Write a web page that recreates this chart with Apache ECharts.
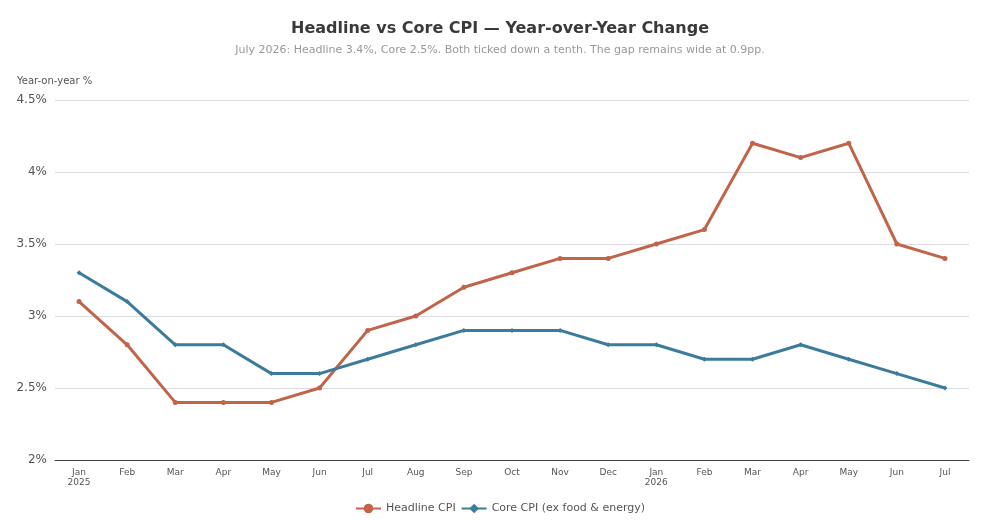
<!doctype html>
<html lang="en">
<head>
<meta charset="utf-8">
<script src="https://cdn.jsdelivr.net/npm/echarts@6/dist/echarts.min.js"></script>
<style>
  html, body { margin: 0; padding: 0; background: #fff; }
  #chart { width: 1000px; height: 520px; }
</style>
</head>
<body>
<div id="chart"></div>
<script>
  // month labels, Jan 2025 .. Jul 2026
  var months = ['Jan\n2025', 'Feb', 'Mar', 'Apr', 'May', 'Jun', 'Jul', 'Aug', 'Sep', 'Oct', 'Nov', 'Dec',
    'Jan\n2026', 'Feb', 'Mar', 'Apr', 'May', 'Jun', 'Jul'];
  var headline = [3.1, 2.8, 2.4, 2.4, 2.4, 2.5, 2.9, 3.0, 3.2, 3.3, 3.4, 3.4, 3.5, 3.6, 4.2, 4.1, 4.2, 3.5, 3.4];
  var core = [3.3, 3.1, 2.8, 2.8, 2.6, 2.6, 2.7, 2.8, 2.9, 2.9, 2.9, 2.8, 2.8, 2.7, 2.7, 2.8, 2.7, 2.6, 2.5];

  var font = '"DejaVu Sans", sans-serif';
  var chart = echarts.init(document.getElementById('chart'));
  chart.setOption({
    animation: false,
    textStyle: { fontFamily: font },
    title: {
      text: 'Headline vs Core CPI \u2014 Year-over-Year Change',
      subtext: 'July 2026: Headline 3.4%, Core 2.5%. Both ticked down a tenth. The gap remains wide at 0.9pp.',
      left: 'center',
      top: 16,
      itemGap: 8,
      textStyle: { fontSize: 16, fontWeight: 'bold', color: '#3a3a3a', fontFamily: font },
      subtextStyle: { fontSize: 11, color: '#999', fontFamily: font }
    },
    legend: {
      bottom: 1,
      left: 'center',
      itemGap: 5,
      itemWidth: 25,
      itemHeight: 12,
      textStyle: { fontSize: 11, color: '#555', fontFamily: font },
      data: ['Headline CPI', 'Core CPI (ex food & energy)']
    },
    grid: { left: 55, right: 31, top: 100, bottom: 60 },
    xAxis: {
      type: 'category',
      data: months,
      boundaryGap: true,
      axisLine: { lineStyle: { color: '#444' } },
      axisTick: { show: false },
      axisLabel: { fontSize: 9, color: '#555', lineHeight: 10, margin: 8, interval: 0, fontFamily: font }
    },
    yAxis: {
      type: 'value',
      name: 'Year-on-year %',
      nameLocation: 'end',
      nameGap: 14,
      nameTextStyle: { fontSize: 10, color: '#555', align: 'left', padding: [0, 0, 0, -38], fontFamily: font },
      min: 2,
      max: 4.5,
      interval: 0.5,
      axisLine: { show: false },
      axisTick: { show: false },
      axisLabel: { fontSize: 12, color: '#555', fontFamily: font, formatter: function (v) { return v + '%'; } },
      splitLine: { lineStyle: { color: '#dcdde3' } }
    },
    series: [
      {
        name: 'Headline CPI',
        type: 'line',
        data: headline,
        symbol: 'circle',
        symbolSize: 5,
        color: '#c0644a',
        lineStyle: { width: 3 }
      },
      {
        name: 'Core CPI (ex food & energy)',
        type: 'line',
        data: core,
        symbol: 'diamond',
        symbolSize: 5,
        color: '#3d7b9c',
        lineStyle: { width: 3 }
      }
    ]
  });
</script>
</body>
</html>
